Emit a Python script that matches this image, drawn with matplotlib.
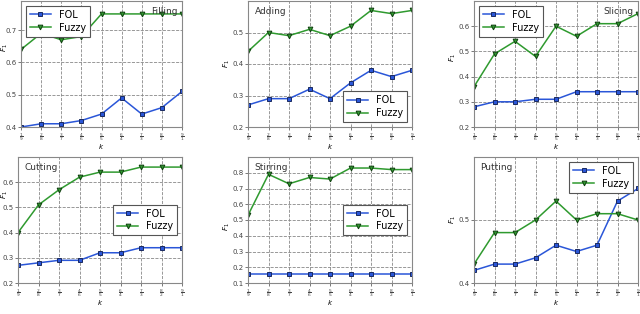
import numpy as np
from matplotlib import pyplot as plt

ks = ['$\\frac{%d}{%d}$' % (i, 10 - i) for i in range(1, 10)]

fill_fol = [0.40, 0.41, 0.41, 0.42, 0.44, 0.49, 0.44, 0.46, 0.51]
fill_fuz = [0.64, 0.69, 0.67, 0.68, 0.75, 0.75, 0.75, 0.75, 0.75]
add_fol = [0.27, 0.29, 0.29, 0.32, 0.29, 0.34, 0.38, 0.36, 0.38]
add_fuz = [0.44, 0.50, 0.49, 0.51, 0.49, 0.52, 0.57, 0.56, 0.57]
slice_fol = [0.28, 0.30, 0.30, 0.31, 0.31, 0.34, 0.34, 0.34, 0.34]
slice_fuz = [0.36, 0.49, 0.54, 0.48, 0.60, 0.56, 0.61, 0.61, 0.65]
cut_fol = [0.27, 0.28, 0.29, 0.29, 0.32, 0.32, 0.34, 0.34, 0.34]
cut_fuz = [0.40, 0.51, 0.57, 0.62, 0.64, 0.64, 0.66, 0.66, 0.66]
stir_fol = [0.16, 0.16, 0.16, 0.16, 0.16, 0.16, 0.16, 0.16, 0.16]
stir_fuz = [0.53, 0.79, 0.73, 0.77, 0.76, 0.83, 0.83, 0.82, 0.82]
put_fol = [0.42, 0.43, 0.43, 0.44, 0.46, 0.45, 0.46, 0.53, 0.55]
put_fuz = [0.43, 0.48, 0.48, 0.50, 0.53, 0.50, 0.51, 0.51, 0.50]

# name, fol, fuzzy, ylim, yticks, title pos, legend loc, axes rect in px (left, top, right, bottom), ylabel y
panels = [
    ('Filling', fill_fol, fill_fuz, (0.4, 0.79), [0.4, 0.5, 0.6, 0.7], 'right', 'upper left', (21, 1, 182, 127), 0.63),
    ('Adding', add_fol, add_fuz, (0.2, 0.6), [0.2, 0.3, 0.4, 0.5], 'left', 'lower right', (248, 1, 412, 127), 0.5),
    ('Slicing', slice_fol, slice_fuz, (0.2, 0.7), [0.2, 0.3, 0.4, 0.5, 0.6], 'right', 'upper left', (474, 1, 638, 127), 0.55),
    ('Cutting', cut_fol, cut_fuz, (0.2, 0.7), [0.2, 0.3, 0.4, 0.5, 0.6], 'left', 'center right', (18, 157, 182, 283), 0.70),
    ('Stirring', stir_fol, stir_fuz, (0.1, 0.9), [0.1, 0.2, 0.3, 0.4, 0.5, 0.6, 0.7, 0.8], 'left', 'center right', (248, 157, 412, 283), 0.45),
    ('Putting', put_fol, put_fuz, (0.4, 0.6), [0.4, 0.5], 'left', 'upper right', (474, 157, 638, 283), 0.5),
]

W, H = 640, 314
fig = plt.figure(figsize=(W / 100, H / 100), dpi=100)

x = np.arange(9)
for name, fol, fuz, ylim, yt, tpos, lloc, (l, t, r, b), ly in panels:
    ax = fig.add_axes([l / W, (H - b) / H, (r - l) / W, (b - t) / H])
    ax.plot(x, fol, '-s', color='#2a56d8', mfc='#2a56d8', mec='#1a2a60', ms=3.2, mew=0.7, lw=1.1, label='FOL')
    ax.plot(x, fuz, '-v', color='#2f9a2f', mfc='#2f9a2f', mec='#104010', ms=3.4, mew=0.7, lw=1.1, label='Fuzzy')
    ax.set_xlim(0, 8)
    ax.set_ylim(*ylim)
    ax.set_xticks(x)
    ax.set_xticklabels(ks, fontsize=4.5)
    ax.set_yticks(yt)
    ax.set_yticklabels(['%.1f' % v for v in yt], fontsize=5, color='#444444')
    ax.tick_params(length=2, width=0.5, pad=1, colors='#444444')
    ax.grid(True, ls='--', lw=0.6, color='#888888')
    for s in ax.spines.values():
        s.set_color('#888888')
        s.set_linewidth(0.8)
    ax.set_ylabel('$F_1$', fontsize=5)
    # ylabel sits just left of the tick labels, as in the reference
    ax.yaxis.set_label_coords((10 - l) / (r - l) if l < 100 else -0.1, ly)
    ax.set_xlabel('$k$', fontsize=5, labelpad=-1)
    if tpos == 'left':
        ax.text(0.04, 0.95, name, transform=ax.transAxes, ha='left', va='top', fontsize=6.5, color='#333333')
    else:
        ax.text(0.97, 0.95, name, transform=ax.transAxes, ha='right', va='top', fontsize=6.5, color='#333333')
    lg = ax.legend(loc=lloc, fontsize=7, handlelength=2.2, borderpad=0.4,
                   labelspacing=0.3, fancybox=False, framealpha=1)
    lg.get_frame().set_edgecolor('#555555')
    lg.get_frame().set_linewidth(0.8)

fig.savefig('out.png', dpi=100)
